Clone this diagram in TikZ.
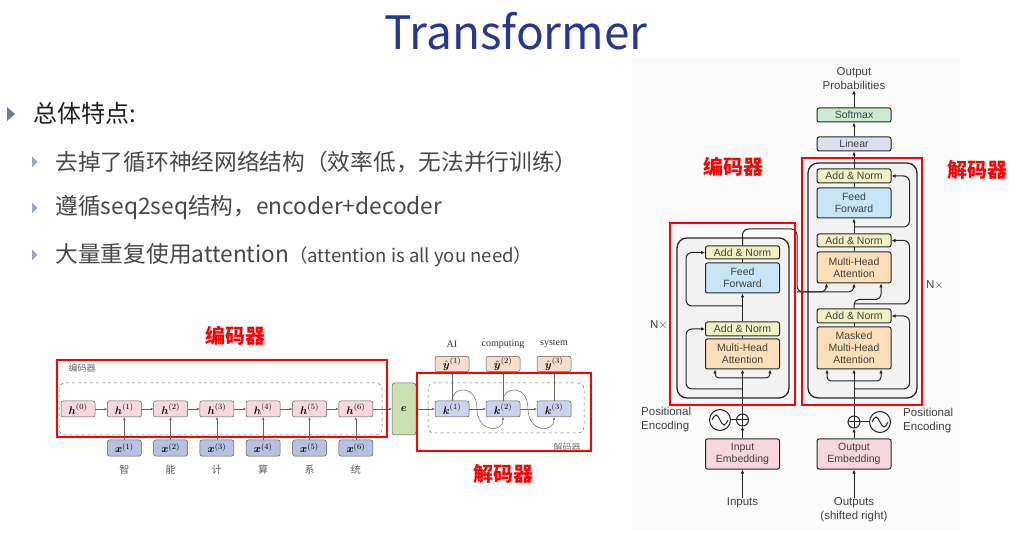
\documentclass[tikz,border=0pt]{standalone}
\usepackage{amsmath}
\usepackage{fontspec}
\setmainfont{Liberation Sans}
\newfontfamily\cjk{Noto Sans CJK SC}
\newfontfamily\timesf{Liberation Serif}
\usetikzlibrary{arrows.meta,positioning}
\definecolor{titleblue}{RGB}{40,56,146}
\definecolor{bulletA}{RGB}{110,124,156}
\definecolor{bulletB}{RGB}{150,168,200}
\definecolor{hpink}{RGB}{248,216,222}
\definecolor{xblue}{RGB}{182,193,225}
\definecolor{kblue}{RGB}{202,212,240}
\definecolor{ypeach}{RGB}{246,222,202}
\definecolor{egreen}{RGB}{202,226,178}
\definecolor{blockgray}{RGB}{242,242,242}
\definecolor{anyellow}{RGB}{240,242,194}
\definecolor{ffblue}{RGB}{198,230,246}
\definecolor{mhaorange}{RGB}{252,222,184}
\definecolor{embpink}{RGB}{248,214,222}
\definecolor{linlav}{RGB}{220,222,242}
\definecolor{softgreen}{RGB}{206,234,210}
\definecolor{redbox}{RGB}{255,0,0}

\tikzset{
  rline/.style={line width=0.5pt, draw=black!60},
  rarrow/.style={rline, -{Stealth[length=3pt,width=2.6pt]}},
  rbox/.style={draw=black!65, line width=0.5pt, rounded corners=2pt, minimum width=34, minimum height=16, inner sep=0pt, font=\fontsize{11}{12}\selectfont},
  tline/.style={line width=1pt, draw=black!85},
  tarrow/.style={tline, -{Latex[length=4pt,width=3.6pt]}},
  tbox/.style={draw=black!85, line width=1pt, rounded corners=2pt, minimum width=74, inner sep=0pt, align=center, text=black!75, font=\fontsize{10.5}{12}\selectfont},
  tlabel/.style={text=black!75, font=\fontsize{11.5}{14}\selectfont, inner sep=0pt},
  redframe/.style={draw=redbox, line width=2.4pt},
  redlabel/.style={text=redbox, font=\cjk\bfseries\fontsize{20}{22}\selectfont},
}

\begin{document}
\begin{tikzpicture}[x=1pt,y=-1pt]
\useasboundingbox (0,0) rectangle (1023,534);

\node[text=titleblue, font=\cjk\fontsize{46}{50}\selectfont] (title) at (516,31) {Transformer};

\fill[bulletA] (7,107) -- (15,114) -- (7,121) -- cycle;
\node[anchor=west, text=black!88, font=\cjk\fontsize{24}{27}\selectfont] (main) at (30,113) {总体特点:};
\foreach \y in {162,208,255}
  \fill[bulletB] (32,\y-5.5) -- (37.5,\y) -- (32,\y+5.5) -- cycle;
\node[anchor=west, text=black!72, font=\cjk\fontsize{22.7}{25}\selectfont] (p1) at (52,162) {去掉了循环神经网络结构（效率低，无法并行训练）};
\node[anchor=west, text=black!72, font=\cjk\fontsize{22.7}{25}\selectfont] (p2) at (52,208) {遵循seq2seq结构，encoder+decoder};
\node[anchor=west, text=black!72, font=\cjk\fontsize{22.7}{25}\selectfont] (p3) at (52,255) {大量重复使用attention{\fontsize{18.5}{20}\selectfont （attention is all you need）}};

% rnn encoder-decoder
\draw[rline, dashed, rounded corners=6] (59,383) rectangle (382,435);
\draw[rline, dashed, rounded corners=6] (428,383) rectangle (584,433);
\node[anchor=west, text=black!60, font=\cjk\fontsize{9}{10}\selectfont] (enclab) at (65,368) {编码器};
\node[text=black!55, font=\cjk\fontsize{9}{10}\selectfont] (declab) at (567,447) {解码器};
\foreach \i in {0,...,6}
  \node[rbox, fill=hpink] (h\i) at ({78+46.3*\i},409) {$\boldsymbol{h}^{(\i)}$};
\foreach \i/\c in {1/智,2/能,3/计,4/算,5/系,6/统} {
  \node[rbox, fill=xblue] (x\i) at ({78+46.3*\i},448) {$\boldsymbol{x}^{(\i)}$};
  \node[below=9pt of x\i, inner sep=0pt, text=black!65, font=\cjk\fontsize{10}{11}\selectfont] (c\i) {\c};
  \draw[rarrow] (x\i) -- (h\i);
}
\foreach \i [remember=\i as \j (initially 0)] in {1,...,6}
  \draw[rarrow] (h\j) -- (h\i);
\node[rbox, fill=egreen, minimum width=24, minimum height=52, rounded corners=3pt] (e) at (404,409) {$\boldsymbol{e}$};
\draw[rarrow] (h6) -- (e);
\foreach \i/\w in {1/AI,2/computing,3/system} {
  \node[rbox, fill=kblue] (k\i) at ({452+51*(\i-1)},409) {$\boldsymbol{k}^{(\i)}$};
  \node[rbox, fill=ypeach, minimum height=15] (y\i) at ({452+51*(\i-1)},364) {$\hat{\boldsymbol{y}}^{(\i)}$};
  \node[inner sep=0pt, text=black!80, font=\timesf\fontsize{10}{11}\selectfont] (w\i) at ({452+51*(\i-1)},344) {\w};
  \draw[rarrow] (k\i) -- (y\i);
}
\draw[rarrow] (e) -- (k1);
\draw[rarrow] (k1) -- (k2);
\draw[rarrow] (k2) -- (k3);
\draw[rarrow] (k1.north) .. controls (452,386) and (477,384) .. (477,409) .. controls (477,432) and (503,434) .. (k2.south);
\draw[rarrow] (k2.north) .. controls (503,386) and (528,384) .. (528,409) .. controls (528,432) and (554,434) .. (k3.south);
\draw[redframe] (57,360) rectangle (387,437);
\draw[redframe] (417,373) rectangle (591,451);
\node[redlabel] (encred) at (235,336) {编码器};
\node[redlabel] (decred) at (503,474) {解码器};

% transformer
\fill[black!2] (632,58) rectangle (960,529);
\draw[tline, fill=blockgray, line width=1.3pt, rounded corners=10] (677,238) rectangle (789,398);
\draw[tline, fill=blockgray, line width=1.3pt, rounded corners=10] (808,163) rectangle (917,398);

\node[tbox, fill=anyellow, minimum height=13] (encAN2) at (742.5,252.5) {Add \& Norm};
\node[tbox, fill=ffblue, minimum height=30] (encFF) at (742.5,278) {Feed\\Forward};
\node[tbox, fill=anyellow, minimum height=14] (encAN1) at (742.5,329) {Add \& Norm};
\node[tbox, fill=mhaorange, minimum height=30] (encMHA) at (742.5,354) {Multi-Head\\Attention};
\node[tbox, fill=embpink, minimum height=30] (inEmb) at (742.5,454) {Input\\Embedding};
\node[circle, draw=black!85, line width=1pt, minimum size=12, inner sep=0pt] (encAdd) at (742.5,420) {};
\node[circle, draw=black!85, line width=1pt, minimum size=21, inner sep=0pt] (encPE) at (720,420) {};
\node[tlabel, anchor=west, align=left] (encPElab) at (641,420) {Positional\\Encoding};
\node[tlabel] (inputs) at (742.5,503) {Inputs};
\node[tlabel] (encN) at (659,325) {N$\times$};

\node[tbox, fill=anyellow, minimum height=14] (decAN3) at (854,176) {Add \& Norm};
\node[tbox, fill=ffblue, minimum height=30] (decFF) at (854,203) {Feed\\Forward};
\node[tbox, fill=anyellow, minimum height=13] (decAN2) at (854,240.5) {Add \& Norm};
\node[tbox, fill=mhaorange, minimum height=31] (decMHA) at (854,267.5) {Multi-Head\\Attention};
\node[tbox, fill=anyellow, minimum height=14] (decAN1) at (854,316) {Add \& Norm};
\node[tbox, fill=mhaorange, minimum height=42] (decMMHA) at (854,348) {Masked\\Multi-Head\\Attention};
\node[tbox, fill=embpink, minimum height=30] (outEmb) at (854,454) {Output\\Embedding};
\node[circle, draw=black!85, line width=1pt, minimum size=12, inner sep=0pt] (decAdd) at (854,422) {};
\node[circle, draw=black!85, line width=1pt, minimum size=21, inner sep=0pt] (decPE) at (880,422) {};
\node[tlabel, anchor=west, align=left] (decPElab) at (903,421) {Positional\\Encoding};
\node[tlabel, align=center] (outputs) at (854,510) {Outputs\\(shifted right)};
\node[tbox, fill=linlav, minimum height=14] (linear) at (854,144) {Linear};
\node[tbox, fill=softgreen, minimum height=14] (softmax) at (854,115) {Softmax};
\node[tlabel, align=center] (outprob) at (854,79) {Output\\Probabilities};
\node[tlabel] (decN) at (935,285) {N$\times$};

\draw[tline] (encAdd.north) -- (encAdd.south) (encAdd.west) -- (encAdd.east);
\draw[tline] (decAdd.north) -- (decAdd.south) (decAdd.west) -- (decAdd.east);
\draw[tline] ([xshift=-8]encPE.center) sin ++(4,-5) cos ++(4,5) sin ++(4,5) cos ++(4,-5);
\draw[tline] ([xshift=-8]decPE.center) sin ++(4,-5) cos ++(4,5) sin ++(4,5) cos ++(4,-5);
\draw[tline] (encPE) -- (encAdd);
\draw[tline] (decPE) -- (decAdd);

\coordinate (encSplit) at (742.5,378);
\coordinate (encRes1) at (742.5,389);
\coordinate (encRes2) at (742.5,306);
\coordinate (encOut) at (797,229);
\coordinate (crossIn) at (797,292);
\draw[tarrow] (inputs) -- (inEmb);
\draw[tarrow] (inEmb) -- (encAdd);
\draw[tarrow] (encAdd) -- (encMHA);
\draw[tarrow, rounded corners=4] (encSplit) -| ([xshift=-27.5]encMHA.south);
\draw[tarrow, rounded corners=4] (encSplit) -| ([xshift=27.5]encMHA.south);
\draw[tarrow, rounded corners=6] (encRes1) -| ([xshift=-19]encAN1.west) -- (encAN1.west);
\draw[tline] (encMHA) -- (encAN1);
\draw[tarrow] (encAN1) -- (encFF);
\draw[tarrow, rounded corners=6] (encRes2) -| ([xshift=-19]encAN2.west) -- (encAN2.west);
\draw[tline] (encFF) -- (encAN2);
\draw[tarrow, rounded corners=6] (encAN2.north) |- (encOut) -- (crossIn) -| ([xshift=-27.5]decMHA.south);
\draw[tarrow, rounded corners=6] (crossIn) -| (decMHA.south);

\coordinate (decSplit) at (854,381);
\coordinate (decRes1) at (854,389);
\coordinate (decRes2) at (854,304);
\coordinate (decRes3) at (854,227);
\draw[tarrow] (outputs) -- (outEmb);
\draw[tarrow] (outEmb) -- (decAdd);
\draw[tarrow] (decAdd) -- (decMMHA);
\draw[tarrow, rounded corners=4] (decSplit) -| ([xshift=-27]decMMHA.south);
\draw[tarrow, rounded corners=4] (decSplit) -| ([xshift=27]decMMHA.south);
\draw[tarrow, rounded corners=6] (decRes1) -| ([xshift=18]decAN1.east) -- (decAN1.east);
\draw[tline] (decMMHA) -- (decAN1);
\draw[tarrow, rounded corners=5] (decAN1.north) -- ++(0,-9) -| ([xshift=27]decMHA.south);
\draw[tarrow, rounded corners=6] (decRes2) -| ([xshift=18]decAN2.east) -- (decAN2.east);
\draw[tline] (decMHA) -- (decAN2);
\draw[tarrow] (decAN2) -- (decFF);
\draw[tarrow, rounded corners=6] (decRes3) -| ([xshift=18]decAN3.east) -- (decAN3.east);
\draw[tline] (decFF) -- (decAN3);
\draw[tarrow] (decAN3) -- (linear);
\draw[tarrow] (linear) -- (softmax);
\draw[tarrow] (softmax) -- (outprob);

\draw[redframe] (670,223) rectangle (795,405);
\draw[redframe] (802,158) rectangle (922,405);
\node[redlabel] (encred2) at (733,167) {编码器};
\node[redlabel] (decred2) at (977,170) {解码器};
\end{tikzpicture}
\end{document}
